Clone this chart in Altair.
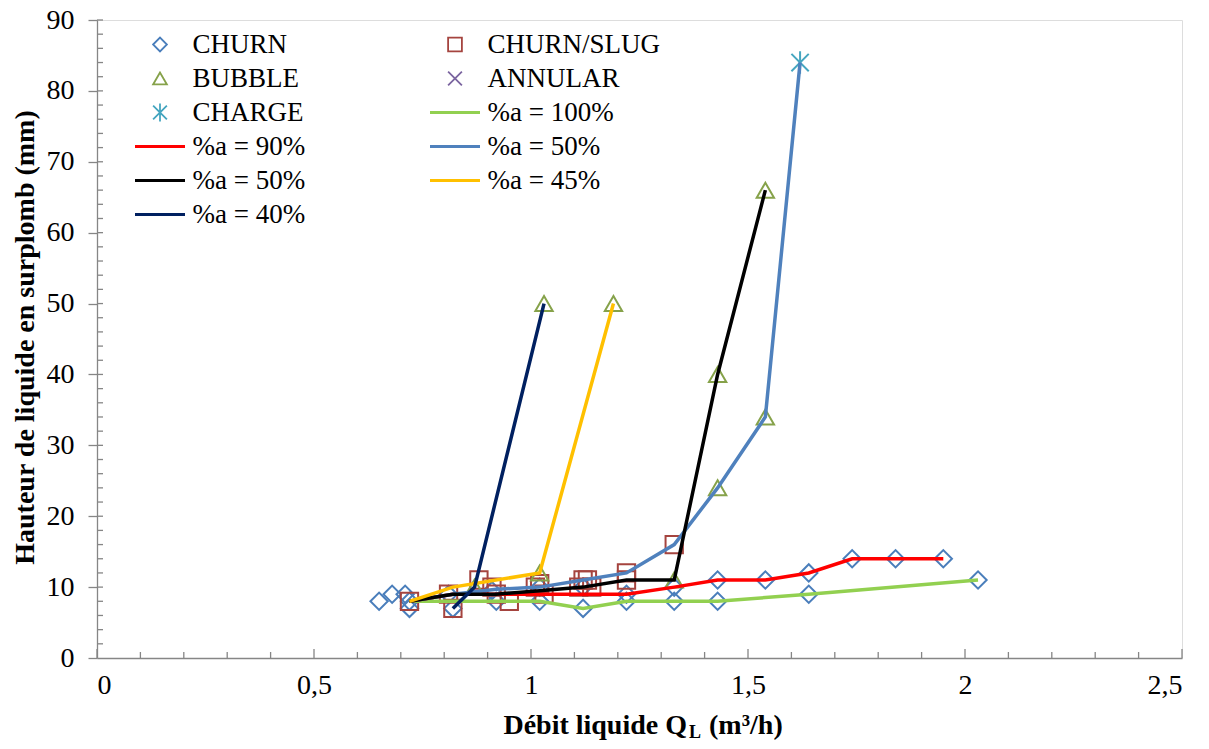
import altair as alt
import pandas as pd

# ---------------- data ----------------
churn_x = [0.65, 0.68, 0.71, 0.72, 0.72, 0.81, 0.82, 0.91, 0.92, 1.02, 1.02, 1.12, 1.12, 1.22, 1.22,
           1.33, 1.33, 1.43, 1.43, 1.54, 1.64, 1.64, 1.74, 1.84, 1.95, 2.03]
churn_y = [8, 9, 9, 7, 8, 9, 7, 9.5, 8, 10, 8, 10, 7, 9, 8,
           8, 10, 11, 8, 11, 12, 9, 14, 14, 14, 11]

slug_x = [0.72, 0.81, 0.82, 0.88, 0.91, 0.92, 0.95, 1.01, 1.02, 1.03, 1.11, 1.12, 1.13, 1.14, 1.22, 1.22, 1.33]
slug_y = [8, 9, 7, 11, 10, 9, 8, 10, 10.5, 9, 10, 11, 11, 10, 12, 11, 16]

bubble_x = [0.87, 1.02, 1.03, 1.19, 1.33, 1.43, 1.43, 1.54, 1.54]
bubble_y = [10, 12, 50, 50, 11, 24, 40, 34, 66]

charge_x = [1.62]
charge_y = [84]

l100_x = [0.72, 0.82, 0.92, 1.02, 1.12, 1.22, 1.33, 1.43, 1.64, 2.03]
l100_y = [8, 8, 8, 8, 7, 8, 8, 8, 9, 11]
l90_x = [0.72, 0.82, 0.92, 1.02, 1.12, 1.22, 1.33, 1.43, 1.54, 1.64, 1.74, 1.84, 1.95]
l90_y = [8, 9, 9, 9, 9, 9, 10, 11, 11, 12, 14, 14, 14]
l50b_x = [0.72, 0.82, 0.92, 1.02, 1.12, 1.22, 1.33, 1.43, 1.54, 1.62]
l50b_y = [8, 9, 9.7, 10, 11, 12, 16, 24, 34, 84]
l50k_x = [0.72, 0.82, 0.92, 1.02, 1.12, 1.22, 1.33, 1.43, 1.54]
l50k_y = [8, 9, 9, 9.5, 10, 11, 11, 40, 66]
l45_x = [0.72, 0.82, 1.02, 1.19]
l45_y = [8, 10, 12, 50]
l40_x = [0.82, 0.87, 1.03]
l40_y = [7, 10, 50]

x_major = [0, 0.5, 1, 1.5, 2, 2.5]
x_minor = [0.1, 0.2, 0.3, 0.4, 0.6, 0.7, 0.8, 0.9, 1.1, 1.2, 1.3, 1.4, 1.6, 1.7, 1.8, 1.9,
           2.1, 2.2, 2.3, 2.4]
y_major = [0, 10, 20, 30, 40, 50, 60, 70, 80, 90]
y_minor = [2, 4, 6, 8, 10, 12, 14, 16, 18, 20, 22, 24, 26, 28, 30, 32, 34, 36, 38, 40, 42, 44,
           46, 48, 50, 52, 54, 56, 58, 60, 62, 64, 66, 68, 70, 72, 74, 76, 78, 80, 82, 84, 86, 88, 90]

# ---------------- series / styles ----------------
N_CHURN, N_SLUG, N_BUB, N_ANN, N_CHG = "CHURN", "CHURN/SLUG", "BUBBLE", "ANNULAR", "CHARGE"
N100, N90, N50B, N50K, N45, N40 = "%a = 100%", "%a = 90%", "%a = 50%", "%a = 50%\u200b", "%a = 45%", "%a = 40%"

domain = [N_CHURN, N_SLUG, N_BUB, N_ANN, N_CHG, N100, N90, N50B, N50K, N45, N40]
colors = ["#4A7EBB", "#A5443F", "#86A24A", "#7B65A0", "#46A6C0",
          "#92D050", "#FF0000", "#4F81BD", "#000000", "#FFC000", "#002060"]
X_PATH = "M-1,-1L1,1M-1,1L1,-1"
STAR_PATH = "M-1,-1L1,1M-1,1L1,-1M0,-1.3L0,1.3"
shapes = ["diamond", "square", "triangle-up", X_PATH, STAR_PATH,
          "stroke", "stroke", "stroke", "stroke", "stroke", "stroke"]

pts_rows = []
for name, xs, ys in [(N_CHURN, churn_x, churn_y), (N_SLUG, slug_x, slug_y),
                     (N_BUB, bubble_x, bubble_y), (N_CHG, charge_x, charge_y)]:
    for a, b in zip(xs, ys):
        pts_rows.append({"series": name, "x": a, "y": b})
pts = pd.DataFrame(pts_rows)

line_rows = []
for name, xs, ys in [(N100, l100_x, l100_y), (N90, l90_x, l90_y), (N50B, l50b_x, l50b_y),
                     (N50K, l50k_x, l50k_y), (N45, l45_x, l45_y), (N40, l40_x, l40_y)]:
    for i, (a, b) in enumerate(zip(xs, ys)):
        line_rows.append({"series": name, "x": a, "y": b, "i": i})
lines_df = pd.DataFrame(line_rows)

W, H = 1085, 638
FONT = "Liberation Serif, Times New Roman, serif"
GRAY = "#868686"

xscale = alt.Scale(domain=[0, 2.5], nice=False, zero=True)
yscale = alt.Scale(domain=[0, 90], nice=False)
cscale = alt.Scale(domain=domain, range=colors)
sscale = alt.Scale(domain=domain, range=shapes)

marker_list = "['CHURN','CHURN/SLUG','BUBBLE','ANNULAR','CHARGE']"
is_marker = f"indexof({marker_list}, datum.value) >= 0"
legend = alt.Legend(
    title=None, orient="none", legendX=35, legendY=11, columns=2, direction="horizontal",
    labelFont=FONT, labelFontSize=27, labelColor="black",
    symbolSize=alt.ExprRef(expr=f"{is_marker} ? 190 : 2500"),
    symbolStrokeWidth=alt.ExprRef(expr=f"{is_marker} ? 1.8 : 3.2"),
    symbolFillColor="transparent",
    symbolOffset=14.5, labelOffset=19,
    clipHeight=27, rowPadding=6, columnPadding=121, padding=0,
    labelLimit=400,
)

xaxis = alt.Axis(title=None, values=x_major, grid=False, ticks=False, domainColor=GRAY,
                 domainWidth=1.3, labelFont=FONT, labelFontSize=28, labelColor="black",
                 labelPadding=13, labelExpr="replace(format(datum.value, '~g'), '.', ',')")
yaxis = alt.Axis(title="Hauteur de liquide en surplomb (mm)", values=y_major, grid=False,
                 tickSize=9, tickColor=GRAY, tickWidth=1.3, domainColor=GRAY, domainWidth=1.3,
                 labelFont=FONT, labelFontSize=28, labelColor="black", labelPadding=14,
                 titleFont=FONT, titleFontSize=28, titleFontWeight="bold", titleColor="black",
                 titleAngle=270, titleX=-64, titleY=H / 2 - 2, titleAlign="center",
                 titleBaseline="alphabetic")

points = alt.Chart(pts).mark_point(filled=False, size=300, strokeWidth=2, opacity=1).encode(
    x=alt.X("x:Q", scale=xscale, axis=xaxis),
    y=alt.Y("y:Q", scale=yscale, axis=yaxis),
    color=alt.Color("series:N", scale=cscale, legend=legend),
    shape=alt.Shape("series:N", scale=sscale, legend=legend),
)

lines = alt.Chart(lines_df).mark_line(strokeWidth=3.5).encode(
    x=alt.X("x:Q", scale=xscale),
    y=alt.Y("y:Q", scale=yscale),
    color=alt.Color("series:N", scale=cscale, legend=legend),
    order=alt.Order("i:Q"),
)

xmaj = alt.Chart(pd.DataFrame({"v": x_major})).mark_rule(color=GRAY, strokeWidth=1.3).encode(
    x=alt.X("v:Q", scale=xscale), y=alt.value(H), y2=alt.value(H - 9))
xmin = alt.Chart(pd.DataFrame({"v": x_minor})).mark_rule(color=GRAY, strokeWidth=1.3).encode(
    x=alt.X("v:Q", scale=xscale), y=alt.value(H), y2=alt.value(H - 6))
ymin = alt.Chart(pd.DataFrame({"v": y_minor})).mark_rule(color=GRAY, strokeWidth=1.3).encode(
    y=alt.Y("v:Q", scale=yscale), x=alt.value(0), x2=alt.value(6))

title_df = pd.DataFrame({"k": [0]})
t1 = alt.Chart(title_df).mark_text(font=FONT, fontSize=28, fontWeight="bold", align="right",
                                   baseline="alphabetic", color="black").encode(
    x=alt.value(590), y=alt.value(714), text=alt.value("Débit liquide Q"))
t2 = alt.Chart(title_df).mark_text(font=FONT, fontSize=18, fontWeight="bold", align="left",
                                   baseline="alphabetic", color="black").encode(
    x=alt.value(592), y=alt.value(718), text=alt.value("L"))
t3 = alt.Chart(title_df).mark_text(font=FONT, fontSize=28, fontWeight="bold", align="left",
                                   baseline="alphabetic", color="black").encode(
    x=alt.value(612), y=alt.value(714), text=alt.value("(m³/h)"))

chart = alt.layer(xmin, xmaj, ymin, points, lines, t1, t2, t3).properties(
    width=W, height=H,
    autosize=alt.AutoSizeParams(type="none"),
    padding={"left": 89, "top": 12, "right": 15, "bottom": 83},
).configure_view(stroke=None).configure(font=FONT)

chart.save("out.html", embed_options={"renderer": "svg", "actions": False})
